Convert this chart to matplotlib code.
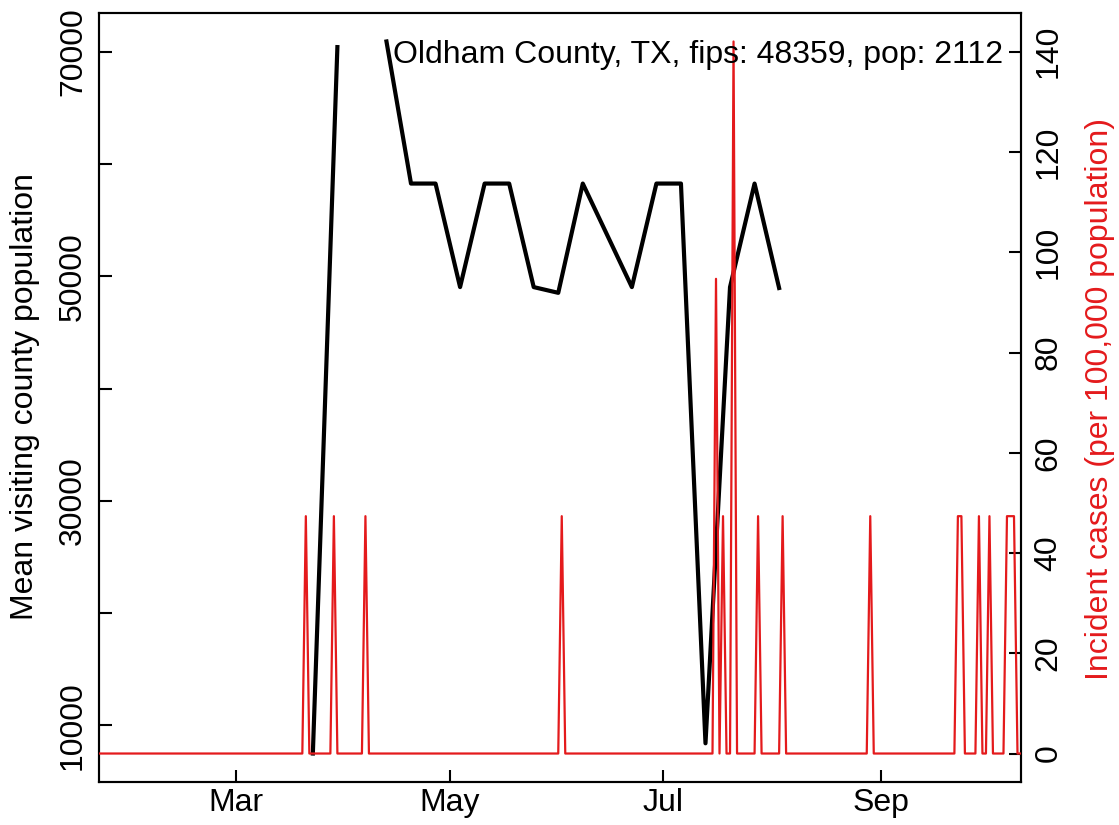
import numpy as np
import matplotlib
matplotlib.use("Agg")
import matplotlib.pyplot as plt

plt.rcParams['font.family'] = ['Liberation Sans', 'DejaVu Sans']

# ---- data ----
title_text = "Oldham County, TX, fips: 48359, pop: 2112"

# weekly mean visiting county population (NaN = missing week)
visit_dates = ["2020-03-23", "2020-03-30", "2020-04-06", "2020-04-13", "2020-04-20",
               "2020-04-27", "2020-05-04", "2020-05-11", "2020-05-18", "2020-05-25",
               "2020-06-01", "2020-06-08", "2020-06-22", "2020-06-29", "2020-07-06",
               "2020-07-13", "2020-07-20", "2020-07-27", "2020-08-03"]
visit_pop = [7500, 70400, np.nan, 70900, 58250,
             58250, 49030, 58250, 58250, 49030,
             48520, 58250, 49030, 58250, 58250,
             8410, 49030, 58250, 48950]

# daily incident cases per 100,000 (days not listed are 0)
case_start = "2020-01-22"
case_end = "2020-10-11"
case_dates = ["2020-03-21", "2020-03-29", "2020-04-07", "2020-06-02", "2020-07-16",
              "2020-07-18", "2020-07-21", "2020-07-28", "2020-08-04", "2020-08-29",
              "2020-09-23", "2020-09-24", "2020-09-29", "2020-10-02", "2020-10-07",
              "2020-10-08", "2020-10-09"]
case_vals = [47.35, 47.35, 47.35, 47.35, 94.70,
             47.35, 142.05, 47.35, 47.35, 47.35,
             47.35, 47.35, 47.35, 47.35, 47.35,
             47.35, 47.35]

month_ticks = ["2020-03-01", "2020-05-01", "2020-07-01", "2020-09-01"]
month_labels = ["Mar", "May", "Jul", "Sep"]
left_ticks = [10000, 20000, 30000, 40000, 50000, 60000, 70000]
left_labels = ["10000", "", "30000", "", "50000", "", "70000"]
right_ticks = [0, 20, 40, 60, 80, 100, 120, 140]

# ---- build series ----
vd = np.array(visit_dates, dtype="datetime64[D]")
vp = np.array(visit_pop, dtype=float)
days = np.arange(np.datetime64(case_start), np.datetime64(case_end) + 1, dtype="datetime64[D]")
inc = np.zeros(len(days))
for d, v in zip(case_dates, case_vals):
    inc[days == np.datetime64(d)] = v

RED = "#E41A1C"
FS = 23

fig = plt.figure(figsize=(11.19, 8.25), dpi=100)
ax = fig.add_axes([99/1119, 1-782/825, (1021-99)/1119, (782-13)/825])

def rexp(lo, hi, f=0.04):
    r = hi - lo
    return lo - f*r, hi + f*r

xl = (days[0].astype(object), days[-1].astype(object))
ax.plot(vd.astype(object), vp, color="black", lw=3.0, zorder=2)
ax.set_ylim(*rexp(np.nanmin(vp), np.nanmax(vp)))
ax.set_xlim(*xl)

ax2 = ax.twinx()
ax2.plot(days.astype(object), inc, color=RED, lw=1.6, zorder=3)
ax2.set_ylim(*rexp(0, np.max(inc)))
ax2.set_xlim(*xl)

for a in (ax, ax2):
    for s in a.spines.values():
        s.set_linewidth(1.5)
        s.set_color("black")

ax.set_xticks([np.datetime64(m).astype(object) for m in month_ticks])
ax.set_xticklabels(month_labels)
ax.set_yticks(left_ticks)
ax.set_yticklabels(left_labels, rotation=90, va="center")
ax2.set_yticks(right_ticks)
ax2.set_yticklabels([str(t) for t in right_ticks], rotation=90, va="center")

ax.tick_params(axis="both", direction="in", length=9, width=1.5, labelsize=FS)
ax.tick_params(axis="x", pad=4)
ax.tick_params(axis="y", pad=8)
ax2.tick_params(axis="y", direction="in", length=9, width=1.5, labelsize=FS, pad=9)

fig.text(25/1119, 1-396.5/825, "Mean visiting county population", rotation=90,
         ha="center", va="center", fontsize=FS)
fig.text(1100/1119, 1-398.5/825, "Incident cases (per 100,000 population)", rotation=90,
         ha="center", va="center", fontsize=FS, color=RED)
fig.text(1003/1119, 1-63/825, title_text, ha="right", va="baseline", fontsize=FS)

fig.savefig("out.png", dpi=100)
